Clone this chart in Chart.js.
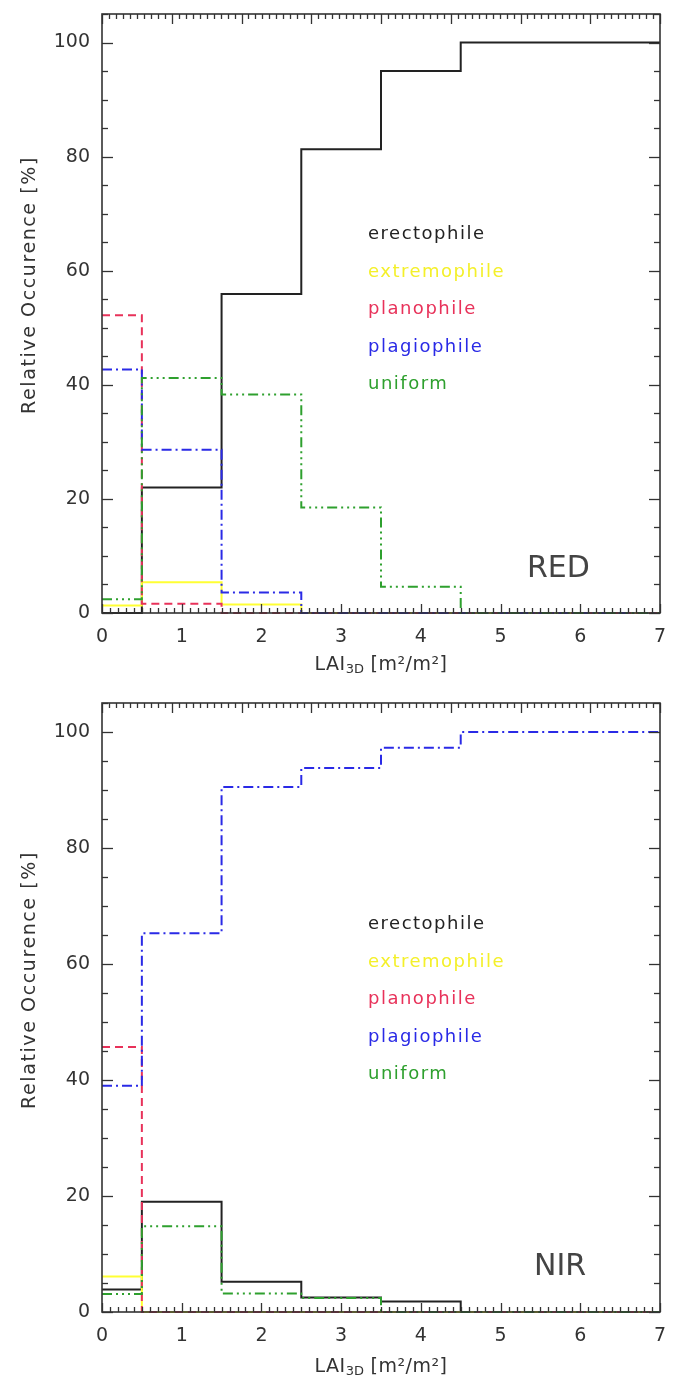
<!DOCTYPE html>
<html>
<head>
<meta charset="utf-8">
<script src="https://cdn.jsdelivr.net/npm/chart.js@4/dist/chart.umd.min.js"></script>
<style>
  html, body { margin:0; padding:0; background:#fff; }
  #wrap { position:relative; width:678px; height:1387px; background:#fff; overflow:hidden;
          font-family:"DejaVu Sans", sans-serif; color:#333; }
  .pane { position:absolute; left:0; width:678px; }
  .ytitle { position:absolute; width:320px; margin-left:-160px; text-align:center; font-size:19px;
            letter-spacing:1.6px; transform:rotate(-90deg); line-height:24px; margin-top:-12px; white-space:nowrap; }
  .xtitle { position:absolute; width:300px; margin-left:-150px; text-align:center; font-size:19px;
            line-height:26px; margin-top:-13px; white-space:nowrap; letter-spacing:0.5px; }
  .xtitle sub { font-size:13px; vertical-align:-3px; letter-spacing:0; }
  .legend { position:absolute; font-size:18px; letter-spacing:1.5px; line-height:22px; white-space:nowrap; }
  .band { position:absolute; font-size:30px; line-height:34px; margin-top:-17px; white-space:nowrap; color:#444; }
</style>
</head>
<body>
<div id="wrap">
  <div class="pane" style="top:0;height:690px"><canvas id="c1" width="678" height="690"></canvas></div>
  <div class="pane" style="top:690px;height:697px"><canvas id="c2" width="678" height="697"></canvas></div>

  <div class="ytitle" style="left:28px;top:285px">Relative Occurence [%]</div>
  <div class="ytitle" style="left:28px;top:980px">Relative Occurence [%]</div>
  <div class="xtitle" style="left:381px;top:663px">LAI<sub>3D</sub> [m²/m²]</div>
  <div class="xtitle" style="left:381px;top:1365px">LAI<sub>3D</sub> [m²/m²]</div>

  <div class="band" style="left:527px;top:567px">RED</div>
  <div class="band" style="left:534px;top:1265px">NIR</div>

  <div id="leg1"></div>
  <div id="leg2"></div>
</div>
<script>
// ---- data ----
const binEdges = [0, 0.5, 1.5, 2.5, 3.5, 4.5, 5.5, 6.5, 7];
const xTickValues = [0, 1, 2, 3, 4, 5, 6, 7];
const yTickValues = [0, 20, 40, 60, 80, 100];
const seriesNames = ["erectophile", "extremophile", "planophile", "plagiophile", "uniform"];

// RED band (top panel), one value per bin
const redErectophile  = [0.0, 22.0, 55.9, 81.3, 95.0, 100, 100, 100];
const redExtremophile = [1.3, 5.4, 1.5, 0, 0, 0, 0, 0];
const redPlanophile   = [52.2, 1.6, 0, 0, 0, 0, 0, 0];
const redPlagiophile  = [42.7, 28.6, 3.6, 0, 0, 0, 0, 0];
const redUniform      = [2.4, 41.2, 38.3, 18.5, 4.6, 0, 0, 0];

// NIR band (bottom panel)
const nirErectophile  = [3.9, 19.0, 5.2, 2.5, 1.8, 0, 0, 0];
const nirExtremophile = [6.1, 0, 0, 0, 0, 0, 0, 0];
const nirPlanophile   = [45.7, 0, 0, 0, 0, 0, 0, 0];
const nirPlagiophile  = [39.0, 65.3, 90.5, 93.8, 97.3, 100, 100, 100];
const nirUniform      = [3.1, 14.8, 3.2, 2.4, 0, 0, 0, 0];

// ---- styles ----
const colors = ["#222222", "#ffff33", "#e8325a", "#2a2ae6", "#2ea02e"];
const dashes = [[], [], [8, 5], [10, 4, 2, 4], [10, 4, 2, 4, 2, 4, 2, 4]];
const legendTop = [233, 923];

function stepData(vals) {
  const pts = vals.map((v, i) => ({ x: binEdges[i], y: v }));
  pts.push({ x: binEdges[binEdges.length - 1], y: vals[vals.length - 1] });
  return pts;
}

const frameTicks = {
  id: 'frameTicks',
  afterDatasetsDraw(chart) {
    const { ctx, chartArea: a, scales: { x, y } } = chart;
    ctx.save();
    ctx.strokeStyle = '#333';
    const ln = (x1, y1, x2, y2) => { ctx.beginPath(); ctx.moveTo(x1, y1); ctx.lineTo(x2, y2); ctx.stroke(); };
    ctx.lineWidth = 1.3;
    for (let v = 0; v <= 105; v += 5) {
      const py = Math.round(y.getPixelForValue(v)) + 0.5;
      const len = v % 20 === 0 ? 11 : 6;
      ln(a.left, py, a.left + len, py);
      ln(a.right, py, a.right - len, py);
    }
    for (let i = 0; i <= 70; i++) {
      const px = Math.round(x.getPixelForValue(i / 10)) + 0.5;
      const len = i % 10 === 0 ? 9 : 5;
      ln(px, a.bottom, px, a.bottom - len);
    }
    for (let i = 0; i <= 80; i++) {
      const px = Math.round(a.left + a.width * i / 80) + 0.5;
      const len = i % 10 === 0 ? 10 : 5;
      ln(px, a.top, px, a.top + len);
    }
    ctx.lineWidth = 1.6;
    ctx.strokeRect(a.left, a.top, a.width, a.height);
    ctx.restore();
  }
};

function noPad(s) { s.paddingTop = 0; s.paddingBottom = 0; s.paddingLeft = 0; s.paddingRight = 0; }

function makeChart(id, seriesVals, padTop, xAxisH) {
  return new Chart(document.getElementById(id), {
    type: 'line',
    data: {
      datasets: seriesVals.map((vals, i) => ({
        label: seriesNames[i],
        data: stepData(vals),
        stepped: 'before',
        borderColor: colors[i],
        borderDash: dashes[i],
        borderWidth: 2,
        pointRadius: 0,
        fill: false,
        clip: false,
        order: [4, 3, 2, 1, 0][i]
      }))
    },
    options: {
      responsive: false,
      animation: false,
      devicePixelRatio: 1,
      layout: { padding: { top: padTop, right: 18, left: 0, bottom: 0 } },
      plugins: { legend: { display: false }, tooltip: { enabled: false } },
      scales: {
        x: {
          type: 'linear', min: 0, max: 7,
          grid: { display: false, drawTicks: false },
          border: { display: false },
          afterBuildTicks: s => { s.ticks = xTickValues.map(v => ({ value: v })); },
          afterFit: s => { s.height = xAxisH; noPad(s); },
          ticks: { padding: 13, color: '#333', font: { family: 'DejaVu Sans', size: 19 }, maxRotation: 0 }
        },
        y: {
          type: 'linear', min: 0, max: 105,
          grid: { display: false, drawTicks: false },
          border: { display: false },
          afterBuildTicks: s => { s.ticks = yTickValues.map(v => ({ value: v })); },
          afterFit: s => { s.width = 102; noPad(s); },
          ticks: { padding: 12, color: '#333', font: { family: 'DejaVu Sans', size: 19 } }
        }
      }
    },
    plugins: [frameTicks]
  });
}

makeChart('c1', [redErectophile, redExtremophile, redPlanophile, redPlagiophile, redUniform], 14, 77);
makeChart('c2', [nirErectophile, nirExtremophile, nirPlanophile, nirPlagiophile, nirUniform], 13, 75);

// legends as text
[0, 1].forEach(k => {
  const host = document.getElementById('leg' + (k + 1));
  seriesNames.forEach((n, i) => {
    const d = document.createElement('div');
    d.className = 'legend';
    d.textContent = n;
    d.style.left = '368px';
    d.style.top = (legendTop[k] + i * 37.5 - 11) + 'px';
    d.style.color = colors[i] === '#ffff33' ? '#f4f02a' : colors[i];
    host.appendChild(d);
  });
});
</script>
</body>
</html>
